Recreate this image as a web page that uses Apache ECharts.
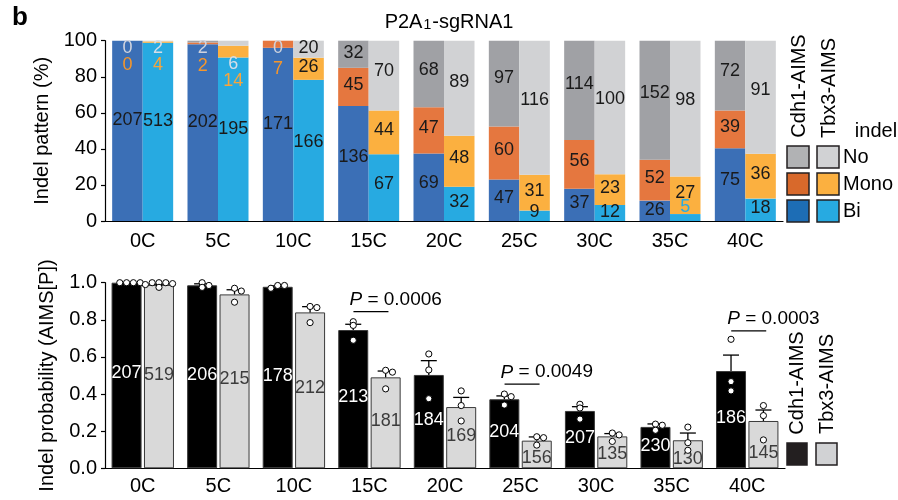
<!DOCTYPE html>
<html><head><meta charset="utf-8">
<script src="https://cdn.jsdelivr.net/npm/echarts@6/dist/echarts.min.js"></script>
<style>html,body{margin:0;padding:0;background:#fff}#c{width:898px;height:500px}</style>
</head><body><div id="c"></div>
<script>
// ---------- data ----------
const categories = ['0C','5C','10C','15C','20C','25C','30C','35C','40C'];
// top panel: cell counts per indel class
const cdh1Bi   = [207,202,171,136,69,47,37,26,75];
const cdh1Mono = [0,2,7,45,47,60,56,52,39];
const cdh1No   = [0,2,0,32,68,97,114,152,72];
const tbx3Bi   = [513,195,166,67,32,9,12,5,18];
const tbx3Mono = [4,14,26,44,48,31,23,27,36];
const tbx3No   = [2,6,20,70,89,116,100,98,91];
const topTicks = [0,20,40,60,80,100];
// bottom panel: indel probability
const cdh1Prob = [1.0,0.986,0.978,0.745,0.503,0.372,0.309,0.223,0.524];
const tbx3Prob = [0.988,0.937,0.840,0.490,0.330,0.149,0.172,0.151,0.255];
const cdh1Sem  = [0,0.008,0.005,0.031,0.077,0.018,0.023,0.016,0.086];
const tbx3Sem  = [0.004,0.025,0.031,0.034,0.052,0.020,0.015,0.039,0.059];
const cdh1Dots = [[1,1,1,1],[1.0,0.975,0.985],[0.97,0.985,0.985],[0.79,0.77,0.69],[0.616,0.53,0.375],[0.40,0.386,0.341],[0.345,0.325,0.265],[0.238,0.232,0.205],[0.695,0.467,0.417]];
const tbx3Dots = [[1.0,0.975,0.995,1.0,0.99,1.0],[0.97,0.895,0.955],[0.872,0.866,0.785],[0.528,0.518,0.428],[0.417,0.338,0.255],[0.17,0.165,0.125],[0.19,0.18,0.145],[0.222,0.138,0.097],[0.338,0.284,0.153]];
const cdh1N = [207,206,178,213,184,204,207,230,186];
const tbx3N = [519,215,212,181,169,156,135,130,145];
const bottomTicks = [0,0.2,0.4,0.6,0.8,1.0];
const pCats   = ['15C','25C','40C'];
const pLevels = [0.844,0.453,0.740];
const pValues = ['0.0006','0.0049','0.0003'];

// ---------- styles ----------
const FONT = '"Liberation Sans", Arial, Helvetica, sans-serif';
const COL = {
  cdh1Bi:'#3b6fb6', cdh1Mono:'#e5773f', cdh1No:'#a0a1a5',
  tbx3Bi:'#27aae1', tbx3Mono:'#fbb040', tbx3No:'#d1d2d4'
};
// labels of very thin segments: [offset from segment top in px, colour]
const tinyLabels = {
  cdh1No:   {0:[7.3,'#cfd3de'],1:[7.3,'#cfd3de'],2:[7.3,'#cfd3de']},
  cdh1Mono: {0:[24,'#f5962b'],1:[23.5,'#f5962b'],2:[28.6,'#f5962b']},
  tbx3No:   {0:[7.3,'#d6dee8'],1:[23.6,'#d6dee8']},
  tbx3Mono: {0:[23.6,'#f8a53c'],1:[35.3,'#f8a53c']},
  tbx3Bi:   {7:[-6.6,'#29abe2']}
};

const cdh1Tot = cdh1Bi.map((v,i)=>v+cdh1Mono[i]+cdh1No[i]);
const tbx3Tot = tbx3Bi.map((v,i)=>v+tbx3Mono[i]+tbx3No[i]);

function clampLayout(p){
  const rb = p.rect.y + p.rect.height;
  const lb = p.labelRect.y + p.labelRect.height;
  return lb > rb ? {dy: rb - lb} : {};
}

function topSeries(key, stack, counts, totals, clamp){
  const s = {
    type:'bar', xAxisIndex:0, yAxisIndex:0, stack:stack, barWidth:30.5, barGap:'0%',
    itemStyle:{color:COL[key]},
    label:{show:true, position:['50%','44%'], align:'center', verticalAlign:'middle',
      fontSize:18, fontFamily:FONT, color:'#1a1a1a', formatter:p=>String(p.data.count)},
    data: counts.map((c,i)=>{
      const item = {value:c/totals[i]*100, count:c};
      const t = tinyLabels[key] && tinyLabels[key][i];
      if (t) item.label = {position:['50%', t[0]], color:t[1]};
      return item;
    })
  };
  if (clamp) s.labelLayout = function(p){ const t = tinyLabels[key] && tinyLabels[key][p.dataIndex]; return t ? {} : clampLayout(p); };
  return s;
}

const BW = 30, GAP = '8%';
const HALF = (BW + BW*0.08)/2;

// n-labels: centred in the bar, but kept below the replicate dots and above the axis
function bottomLayout(means, dots){
  return function(p){
    const r = p.rect, rb = r.y + r.height, i = p.dataIndex;
    const pxPer = r.height / means[i];
    const low = rb - Math.min.apply(null, dots[i]) * pxPer;
    const cur = p.labelRect.y + p.labelRect.height/2;
    let target = Math.max(r.y + r.height/2 - 2, low + 13);
    target = Math.min(target, rb - 9);
    return {dy: target - cur};
  };
}

function bottomBar(vals, ns, dots, fill, txt){
  return {
    type:'bar', xAxisIndex:1, yAxisIndex:1, barWidth:BW, barGap:GAP, data:vals,
    itemStyle:{color:fill, borderColor:'#3a3a3a', borderWidth:1},
    label:{show:true, position:'inside', fontSize:18, fontFamily:FONT, color:txt,
      formatter:p=>String(ns[p.dataIndex])},
    labelLayout: bottomLayout(vals, dots)
  };
}

function dotSeries(means, sems, dots, side){
  return {
    type:'custom', xAxisIndex:1, yAxisIndex:1, z:5, clip:false,
    data: means.map((m,i)=>[i,m,sems[i]]),
    encode:{x:0,y:1},
    renderItem:function(params, api){
      const i = api.value(0), m = api.value(1), s = api.value(2);
      const base = api.coord([i, m]);
      const cx = base[0] + side*HALF;
      const children = [];
      if (s > 0){
        const top = api.coord([i, m + s])[1];
        children.push({type:'line', shape:{x1:cx,y1:base[1],x2:cx,y2:top}, style:{stroke:'#000',lineWidth:1.3}});
        children.push({type:'line', shape:{x1:cx-8,y1:top,x2:cx+8,y2:top}, style:{stroke:'#000',lineWidth:1.3}});
      }
      // simple beeswarm placement
      const pts = dots[params.dataIndex].map(v=>api.coord([i, v])[1]).sort((a,b)=>a-b);
      const placed = [];
      const r = 3.1, step = 6.8, minD = 3.5;
      pts.forEach(py=>{
        const offs = [0, step, -step, 2*step, -2*step, 3*step];
        let ox = 0;
        for (const o of offs){
          if (!placed.some(q=>Math.hypot(q[0]-o, q[1]-py) < (o===0 ? minD : 2*r))) { ox = o; break; }
        }
        placed.push([ox, py]);
        children.push({type:'circle', shape:{cx:cx+ox, cy:py, r:r}, style:{fill:'#fff', stroke:'#000', lineWidth:1}});
      });
      return {type:'group', children};
    }
  };
}

const pSeries = {
  type:'custom', xAxisIndex:1, yAxisIndex:1, z:6, clip:false,
  data: pCats.map((c,k)=>[categories.indexOf(c), pLevels[k]]),
  encode:{x:0,y:1},
  renderItem:function(params, api){
    const c = api.coord([api.value(0), api.value(1)]);
    const k = params.dataIndex;
    return {type:'group', children:[
      {type:'line', shape:{x1:c[0]-16,y1:c[1],x2:c[0]+19,y2:c[1]}, style:{stroke:'#000',lineWidth:1.2}},
      {type:'text', x:c[0]-20, y:c[1]-12, style:{text:'{i|P} = '+pValues[k], fill:'#000',
        fontSize:19, fontFamily:FONT, align:'left', verticalAlign:'middle',
        rich:{i:{fontStyle:'italic', fontSize:19, fontFamily:FONT}}}}
    ]};
  }
};

function legendText(x,y,text,rot,align){
  return {type:'text', x:x, y:y, rotation:rot||0,
    style:{text:text, fontSize:20, fontFamily:FONT, fill:'#000', align:align||'center', verticalAlign:'middle'}};
}
function box(x,y,w,h,fill){
  return {type:'rect', shape:{x:x,y:y,width:w,height:h}, style:{fill:fill, stroke:'#231f20', lineWidth:1.5}};
}

const axisLine = {show:true, lineStyle:{color:'#000', width:1.2}};
const option = {
  animation:false,
  textStyle:{fontFamily:FONT},
  grid:[
    {left:105, right:115, top:40.7, bottom:279},
    {left:105, right:113, top:282.7, bottom:31.7}
  ],
  xAxis:[
    {gridIndex:0, type:'category', data:categories, axisLine:axisLine, axisTick:{show:false},
     axisLabel:{fontSize:20, color:'#000', margin:10, fontFamily:FONT}},
    {gridIndex:1, type:'category', data:categories, axisLine:axisLine, axisTick:{show:false},
     axisLabel:{fontSize:20, color:'#000', margin:8, fontFamily:FONT}}
  ],
  yAxis:[
    {gridIndex:0, type:'value', min:topTicks[0], max:topTicks[topTicks.length-1], interval:20,
     axisLine:axisLine, axisTick:{show:true, length:4, lineStyle:{color:'#000',width:1.2}}, splitLine:{show:false},
     axisLabel:{fontSize:20, color:'#000', margin:8, fontFamily:FONT},
     name:'Indel pattern (%)', nameLocation:'middle', nameGap:48,
     nameTextStyle:{fontSize:20, color:'#000', fontFamily:FONT}},
    {gridIndex:1, type:'value', min:bottomTicks[0], max:bottomTicks[bottomTicks.length-1], interval:0.2,
     axisLine:axisLine, axisTick:{show:true, length:4, lineStyle:{color:'#000',width:1.2}}, splitLine:{show:false},
     axisLabel:{fontSize:20, color:'#000', margin:8, fontFamily:FONT, formatter:v=>v.toFixed(1)},
     name:'Indel probability (AIMS[P])', nameLocation:'middle', nameGap:48,
     nameTextStyle:{fontSize:20, color:'#000', fontFamily:FONT}}
  ],
  series:[
    topSeries('cdh1Bi','c',cdh1Bi,cdh1Tot,true),
    topSeries('cdh1Mono','c',cdh1Mono,cdh1Tot,false),
    topSeries('cdh1No','c',cdh1No,cdh1Tot,false),
    topSeries('tbx3Bi','t',tbx3Bi,tbx3Tot,true),
    topSeries('tbx3Mono','t',tbx3Mono,tbx3Tot,false),
    topSeries('tbx3No','t',tbx3No,tbx3Tot,false),
    bottomBar(cdh1Prob, cdh1N, cdh1Dots, '#000', '#fff'),
    bottomBar(tbx3Prob, tbx3N, tbx3Dots, '#d9d9d9', '#3c3c3c'),
    dotSeries(cdh1Prob, cdh1Sem, cdh1Dots, -1),
    dotSeries(tbx3Prob, tbx3Sem, tbx3Dots, 1),
    pSeries
  ],
  graphic:[
    {type:'text', x:12, y:18, style:{text:'b', fontSize:26, fontWeight:'bold', fontFamily:FONT, fill:'#000', align:'left', verticalAlign:'middle'}},
    {type:'text', x:449, y:22, style:{text:'{a|P2A}{s|1}{a|-sgRNA1}', fill:'#000', align:'center', verticalAlign:'middle',
      rich:{a:{fontSize:20, fontFamily:FONT, lineHeight:22}, s:{fontSize:14, fontFamily:FONT, lineHeight:22, padding:[6,1,0,1]}}}},
    // top legend
    legendText(799, 86, 'Cdh1-AIMS', Math.PI/2),
    legendText(829, 88, 'Tbx3-AIMS', Math.PI/2),
    legendText(876, 131, 'indel'),
    box(787,146,22,22,'#b1b2b4'), box(817,146,22,22,COL.tbx3No),
    box(787,173,22,22,'#d8692b'), box(817,173,22,22,COL.tbx3Mono),
    box(787,200,22,22,'#1d6db5'), box(817,200,22,22,COL.tbx3Bi),
    legendText(843,157,'No',0,'left'), legendText(843,184,'Mono',0,'left'), legendText(843,211,'Bi',0,'left'),
    // bottom legend
    legendText(797.5, 383, 'Cdh1-AIMS', Math.PI/2),
    legendText(827.5, 384, 'Tbx3-AIMS', Math.PI/2),
    box(787,443,20,22,'#231f20'), box(816,443,21,22,'#d1d2d4')
  ]
};

const chart = echarts.init(document.getElementById('c'), null, {renderer:'canvas'});
chart.setOption(option);
</script>
</body></html>
